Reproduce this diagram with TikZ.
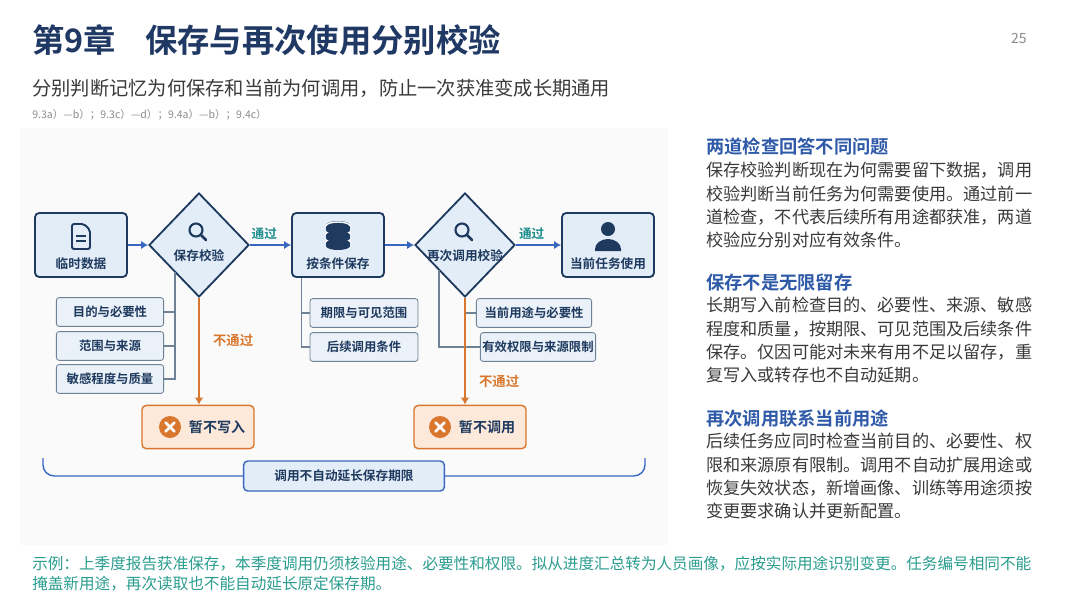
\documentclass[tikz,border=0pt]{standalone}
\usepackage{fontspec}
\setmainfont{Noto Sans CJK SC}[BoldFont={Noto Sans CJK SC Bold}]
\usetikzlibrary{shapes.geometric,positioning,calc,arrows.meta}
\definecolor{navy}{HTML}{1F3A5F}
\definecolor{titleblue}{HTML}{1F3864}
\definecolor{headblue}{HTML}{2F5AA8}
\definecolor{flowblue}{HTML}{3A68C0}
\definecolor{boxfill}{HTML}{E3EDF8}
\definecolor{itemfill}{HTML}{EAF1F8}
\definecolor{itemline}{HTML}{6F8194}
\definecolor{failor}{HTML}{D9772E}
\definecolor{failfill}{HTML}{FCE9DA}
\definecolor{passteal}{HTML}{1C8C8C}
\definecolor{bodygray}{HTML}{3A3A3A}
\definecolor{noteteal}{HTML}{2A9D8F}
\tikzset{
  box/.style={draw=navy, line width=1.3pt, fill=boxfill, rounded corners=3pt,
    minimum width=2.3cm, minimum height=1.6cm, inner sep=0pt},
  chk/.style={diamond, draw=navy, line width=1.3pt, fill=boxfill,
    minimum width=2.5cm, minimum height=2.6cm, inner sep=0pt},
  item/.style={draw=itemline, line width=0.6pt, fill=itemfill, rounded corners=2pt,
    minimum height=0.72cm, inner sep=0pt, font=\bfseries\fontsize{8.8}{10}\selectfont, text=navy},
  stop/.style={draw=failor, line width=1pt, fill=failfill, rounded corners=3pt,
    minimum width=2.8cm, minimum height=1.08cm, inner sep=0pt},
  lbl/.style={font=\bfseries\fontsize{9}{10}\selectfont, text=navy},
  flow/.style={draw=flowblue, line width=1.5pt, -{Latex[length=5pt,width=6pt]}},
  fail/.style={draw=failor, line width=1.4pt, -{Latex[length=5pt,width=6pt]}},
  tie/.style={draw=itemline, line width=0.8pt},
  para/.style={anchor=north west, align=left, inner sep=0pt, text=bodygray,
    font=\fontsize{12.2}{16.6}\selectfont},
  head/.style={anchor=west, inner sep=0pt, text=headblue, font=\bfseries\fontsize{13}{15}\selectfont},
}
\newcommand{\lens}[1]{%
  \draw[navy, line width=1.5pt] ($(#1)+(-3,-3)$) circle (6.5);
  \draw[navy, line width=2pt, line cap=round] ($(#1)+(2,2)$) -- ($(#1)+(7,7)$);}
\newcommand{\cross}[1]{%
  \fill[failor] (#1) circle (11);
  \draw[white, line width=1.8pt, line cap=round] ($(#1)+(-4.5,-4.5)$) -- ($(#1)+(4.5,4.5)$)
    ($(#1)+(-4.5,4.5)$) -- ($(#1)+(4.5,-4.5)$);}
\begin{document}
\begin{tikzpicture}[x=0.025cm, y=-0.025cm]
\useasboundingbox (0,0) rectangle (1080,608);
\fill[white] (0,0) rectangle (1080,608);
\fill[black!2] (20,128) rectangle (668,545);

% header
\node[anchor=west, inner sep=0pt, text=titleblue, font=\bfseries\fontsize{23}{26}\selectfont]
  (title) at (32,40) {第9章\hspace{0.9em}保存与再次使用分别校验};
\node[anchor=east, inner sep=0pt, text=black!45, font=\fontsize{10}{12}\selectfont] (page) at (1027,38) {25};
\node[anchor=west, inner sep=0pt, text=bodygray, font=\fontsize{13.7}{16}\selectfont]
  (sub) at (32,88) {分别判断记忆为何保存和当前为何调用，防止一次获准变成长期通用};
\node[anchor=west, inner sep=0pt, text=black!45, font=\fontsize{7.5}{9}\selectfont]
  (refs) at (32,115) {9.3a）—b）；9.3c）—d）；9.4a）—b）；9.4c）};

% main chain
\node[box] (tmp) at (81,245) {};
\node[chk] (chkA) at (199,245) {};
\node[box] (keep) at (338,245) {};
\node[chk] (chkB) at (465,245) {};
\node[box] (use) at (608,245) {};
\node[lbl] at (81,264) {临时数据};
\node[lbl] at (199,256) {保存校验};
\node[lbl] at (338,264) {按条件保存};
\node[lbl] at (465,256) {再次调用校验};
\node[lbl] at (608,264) {当前任务使用};
\draw[flow] (tmp) -- (chkA);
\draw[flow] (chkA) -- node[above, font=\bfseries\fontsize{9}{10}\selectfont, text=passteal, pos=0.35] {通过} (keep);
\draw[flow] (keep) -- (chkB);
\draw[flow] (chkB) -- node[above, font=\bfseries\fontsize{9}{10}\selectfont, text=passteal, pos=0.35] {通过} (use);

% icons
\draw[navy, line width=1.4pt, rounded corners=1.5pt] (72,224) -- (72,249) -- (90,249) -- (90,230) -- (84,224) -- cycle;
\draw[navy, line width=1.4pt] (76,236) -- (86,236) (76,241) -- (86,241);
\lens{199,233}
\lens{465,233}
\foreach \yy in {241,233,225} {
  \fill[navy] (326,\yy) rectangle (350,\yy+5);
  \fill[navy] (338,\yy+5) ellipse (12 and 4);
  \fill[navy] (338,\yy) ellipse (12 and 4);
  \draw[white, line width=1pt] (326,\yy+1) arc (180:360:12 and 4);
}
\fill[navy] (608,229) circle (7);
\fill[navy] (595,251) -- (595,249) arc (180:360:13 and 10) -- (621,251) -- cycle;

% storage checks
\node[item, minimum width=2.68cm] (purp) at (110,312) {目的与必要性};
\node[item, minimum width=2.68cm] (scope) at (110,346) {范围与来源};
\node[item, minimum width=2.68cm] (sens) at (110,379) {敏感程度与质量};
\coordinate (tieA) at ($(chkA.center)+(-24,27)$);
\draw[tie] (tieA) |- (sens.east);
\draw[tie] (purp.east) -- (purp.east -| tieA);
\draw[tie] (scope.east) -- (scope.east -| tieA);

\node[item, minimum width=2.7cm] (term) at (364,313) {期限与可见范围};
\node[item, minimum width=2.7cm] (later) at (364,347) {后续调用条件};
\coordinate (tieK) at ($(keep.south west)+(10,0)$);
\draw[tie] (tieK) |- (later.west);
\draw[tie] (term.west) -- (term.west -| tieK);

% reuse checks
\node[item, minimum width=2.88cm] (now) at (534,313) {当前用途与必要性};
\node[item, minimum width=2.88cm] (perm) at (538,347) {有效权限与来源限制};
\coordinate (tieB) at ($(chkB.center)+(-26,25)$);
\draw[tie] (tieB) |- (perm.west);
\draw[tie] (now.west) -- (now.west -| chkB.south);

% fail branches
\node[stop] (noA) at (198,427) {};
\node[stop] (noB) at (470,427) {};
\cross{170,427}
\cross{440,427}
\node[font=\bfseries\fontsize{10}{11}\selectfont, text=navy, anchor=west] at (184,427) {暂不写入};
\node[font=\bfseries\fontsize{10}{11}\selectfont, text=navy, anchor=west] at (454,427) {暂不调用};
\draw[fail] (chkA.south) -- node[right=6pt, pos=0.4, font=\bfseries\fontsize{9.5}{11}\selectfont, text=failor] {不通过} (chkA.south |- noA.north);
\draw[fail] (chkB.south) -- node[right=6pt, pos=0.78, font=\bfseries\fontsize{9.5}{11}\selectfont, text=failor] {不通过} (chkB.south |- noB.north);

% bottom note
\node[draw=flowblue, line width=1pt, fill=boxfill, rounded corners=3pt, minimum width=5.02cm,
  minimum height=0.75cm, inner sep=0pt, font=\bfseries\fontsize{9}{10}\selectfont, text=navy]
  (never) at (344,476) {调用不自动延长保存期限};
\coordinate (braceL) at (43,458);
\coordinate (braceR) at (645,458);
\draw[draw=flowblue, line width=1pt, rounded corners=8pt] (braceL) |- (never.west);
\draw[draw=flowblue, line width=1pt, rounded corners=8pt] (never.east) -| (braceR);

% right column
\node[head] (h1) at (706,146) {两道检查回答不同问题};
\node[para] (p1) at (706,162) {保存校验判断现在为何需要留下数据，调用\\校验判断当前任务为何需要使用。通过前一\\道检查，不代表后续所有用途都获准，两道\\校验应分别对应有效条件。};
\node[head] (h2) at (706,283) {保存不是无限留存};
\node[para] (p2) at (706,297) {长期写入前检查目的、必要性、来源、敏感\\程度和质量，按期限、可见范围及后续条件\\保存。仅因可能对未来有用不足以留存，重\\复写入或转存也不自动延期。};
\node[head] (h3) at (706,419) {再次调用联系当前用途};
\node[para] (p3) at (706,433) {后续任务应同时检查当前目的、必要性、权\\限和来源原有限制。调用不自动扩展用途或\\恢复失效状态，新增画像、训练等用途须按\\变更要求确认并更新配置。};

% example
\node[anchor=north west, align=left, inner sep=0pt, text=noteteal, font=\fontsize{11.1}{14.2}\selectfont]
  (eg) at (32,556) {示例：上季度报告获准保存，本季度调用仍须核验用途、必要性和权限。拟从进度汇总转为人员画像，应按实际用途识别变更。任务编号相同不能\\掩盖新用途，再次读取也不能自动延长原定保存期。};
\end{tikzpicture}
\end{document}
